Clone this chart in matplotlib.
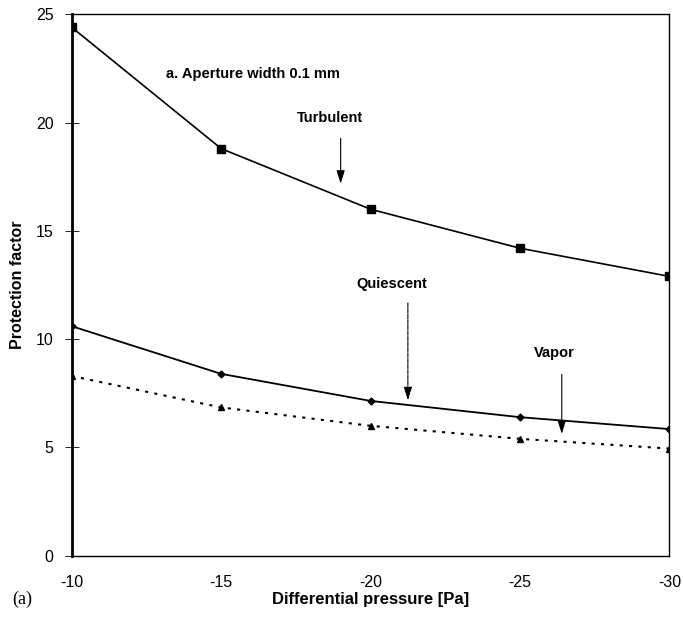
import numpy as np
import matplotlib.pyplot as plt

plt.rcParams['font.family'] = ['Liberation Sans', 'DejaVu Sans']
plt.rcParams['axes.unicode_minus'] = False

# data
pressure = [-10, -15, -20, -25, -30]
turbulent = [24.4, 18.8, 16.0, 14.2, 12.9]
quiescent = [10.6, 8.4, 7.15, 6.4, 5.85]
vapor = [8.3, 6.85, 6.0, 5.4, 4.95]

fig = plt.figure(figsize=(6.83, 6.21), dpi=100)
a = fig.add_axes([0.105, 0.105, 0.875, 0.872])

a.plot(pressure, turbulent, color='black', lw=1.2, marker='s', ms=5.5)
a.plot(pressure, quiescent, color='black', lw=1.3, marker='D', ms=3.5)
a.plot(pressure, vapor, color='black', lw=1.5, ls=(0, (1.5, 3)), marker='^', ms=5)

a.set_xlim(-10, -30)
a.set_ylim(0, 25)
a.set_xticks(pressure)
a.set_yticks([0, 5, 10, 15, 20, 25])
a.tick_params(axis='x', length=0, pad=14, labelsize=11.5)
a.tick_params(axis='y', direction='inout', length=10, width=0.6, labelsize=11.5, pad=8)

for s in a.spines.values():
    s.set_linewidth(1.0)
a.spines['left'].set_linewidth(2.0)

a.set_xlabel('Differential pressure [Pa]', fontweight='bold', fontsize=12, labelpad=1)
a.set_ylabel('Protection factor', fontweight='bold', fontsize=11.5, labelpad=8)

# annotations
arrow = dict(arrowstyle='-|>,head_width=0.25,head_length=0.8', color='black', lw=0.8)
a.text(-13.15, 22.25, 'a. Aperture width 0.1 mm', fontsize=10.5, fontweight='bold', va='center')
a.text(-18.65, 20.2, 'Turbulent', fontsize=10.5, fontweight='bold', ha='center', va='center')
a.annotate('', xy=(-19.0, 17.05), xytext=(-19.0, 19.4), arrowprops=arrow)
a.text(-20.7, 12.55, 'Quiescent', fontsize=10.5, fontweight='bold', ha='center', va='center')
a.annotate('', xy=(-21.25, 7.05), xytext=(-21.25, 11.8),
           arrowprops=dict(arrow, ls=(0, (4, 1))))
a.text(-26.15, 9.35, 'Vapor', fontsize=10.5, fontweight='bold', ha='center', va='center')
a.annotate('', xy=(-26.4, 5.5), xytext=(-26.4, 8.5), arrowprops=arrow)

fig.text(0.018, 0.035, '(a)', fontsize=13, family='Liberation Serif', va='center')

plt.savefig('out.png', dpi=100)
